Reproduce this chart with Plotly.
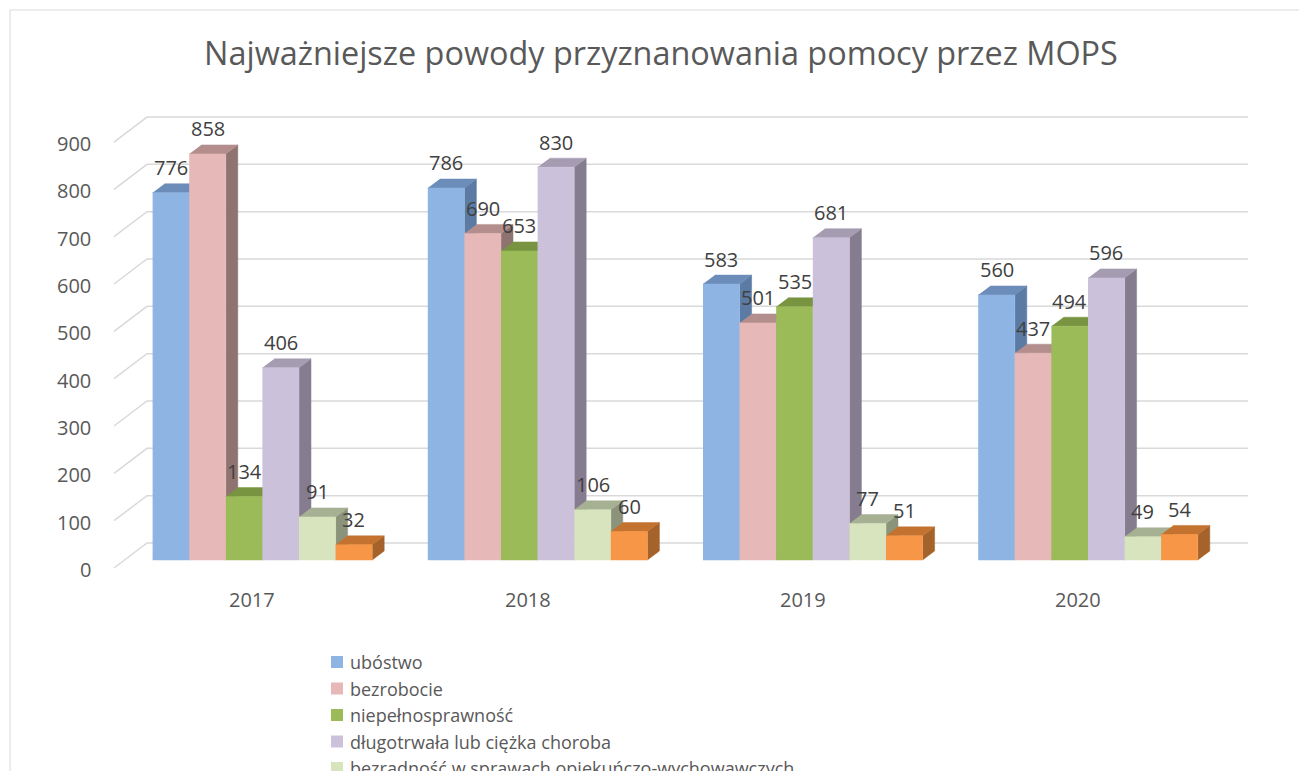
import plotly.graph_objects as go

# ---------------- data ----------------
years = ["2017", "2018", "2019", "2020"]
series_names = [
    "ubóstwo",
    "bezrobocie",
    "niepełnosprawność",
    "długotrwała lub ciężka choroba",
    "bezradność w sprawach opiekuńczo-wychowawczych",
    "(seria 6 – nazwa ucięta w legendzie)",
]
ubostwo = [776, 786, 583, 560]
bezrobocie = [858, 690, 501, 437]
niepelnosprawnosc = [134, 653, 535, 494]
dlugotrwala_choroba = [406, 830, 681, 596]
bezradnosc = [91, 106, 77, 49]
seria_6 = [32, 60, 51, 54]
y_tick_values = [0, 100, 200, 300, 400, 500, 600, 700, 800, 900]

series_values = [ubostwo, bezrobocie, niepelnosprawnosc, dlugotrwala_choroba, bezradnosc, seria_6]
legend_visible = [True, True, True, True, True, False]

front_colors = ["#8EB4E3", "#E6B9B8", "#9BBB59", "#CCC1DA", "#D7E4BD", "#F79646"]
top_colors = ["#6C8CB9", "#B38E8D", "#789440", "#A59CB2", "#A6B194", "#C4722F"]
side_colors = ["#5B7BA5", "#8F7371", "#6A8438", "#857C8F", "#8B937B", "#A5622A"]

# ---------------- geometry ----------------
# the page body has an 8px margin, so the figure is placed at (8, 8) in the window
OFF = 8
W, H = 1307 - OFF, 771 - OFF


def fx_px(px):  # window pixel x -> figure pixel x
    return px - OFF


def fy_px(py):  # window pixel y -> figure pixel y
    return py - OFF


PX_C0, PITCH = fx_px(262.4), 275.2        # first category centre, px per category
PY_BASE, PX_PER_UNIT = fy_px(560.0), 0.4733
X_RANGE = [-0.6, 3.6]
Y_RANGE = [-60, 1000]


def xu(px):
    return px / PITCH


def yu(px):
    return px / PX_PER_UNIT


bar_w = xu(36.6)
depth_x, depth_y = xu(12), yu(9)

x_dom = [(PX_C0 + X_RANGE[0] * PITCH) / W, (PX_C0 + X_RANGE[1] * PITCH) / W]
y_dom = [1 - (PY_BASE - Y_RANGE[0] * PX_PER_UNIT) / H, 1 - (PY_BASE - Y_RANGE[1] * PX_PER_UNIT) / H]

fig = go.Figure()

# back-wall gridlines with floor diagonal
x_front = xu(fx_px(114) - PX_C0)
x_back0 = xu(fx_px(147) - PX_C0)
x_back1 = xu(fx_px(1248) - PX_C0)
front_off, back_off = -yu(8), yu(17)
gx, gy = [], []
for t in y_tick_values:
    gx += [x_front, x_back0, x_back1, None]
    gy += [t + front_off, t + back_off, t + back_off, None]
fig.add_trace(go.Scatter(x=gx, y=gy, mode="lines", line=dict(color="#D9D9D9", width=1.5),
                         hoverinfo="skip", showlegend=False))

annotations = []
n = len(series_values)
for k, (name, vals) in enumerate(zip(series_names, series_values)):
    sx, sy, tx, ty, fxs, fys = [], [], [], [], [], []
    for i, v in enumerate(vals):
        x0 = i + (k - n / 2) * bar_w
        x1 = x0 + bar_w
        sx += [x1, x1 + depth_x, x1 + depth_x, x1, None]
        sy += [0, depth_y, v + depth_y, v, None]
        tx += [x0, x1, x1 + depth_x, x0 + depth_x, None]
        ty += [v, v, v + depth_y, v + depth_y, None]
        fxs += [x0, x1, x1, x0, None]
        fys += [0, 0, v, v, None]
        annotations.append(dict(x=(x0 + x1) / 2, y=v, xref="x", yref="y", text=str(v),
                                showarrow=False, yshift=25, yanchor="middle",
                                font=dict(family="Open Sans", size=20, color="#404040")))
    for xs, ys, col in ((sx, sy, side_colors[k]), (tx, ty, top_colors[k]), (fxs, fys, front_colors[k])):
        fig.add_trace(go.Scatter(x=xs, y=ys, mode="lines", fill="toself", fillcolor=col,
                                 line=dict(color=col, width=0.5), hoverinfo="skip",
                                 showlegend=False, name=name))

# y tick labels (front plane)
for t in y_tick_values:
    annotations.append(dict(x=fx_px(93) / W, xref="paper", y=t - yu(9.5), yref="y", text=str(t),
                            showarrow=False, xanchor="right", yanchor="middle",
                            font=dict(family="Open Sans", size=20, color="#595959")))

# category labels
for i, yr in enumerate(years):
    annotations.append(dict(x=i, xref="x", y=1 - fy_px(599.5) / H, yref="paper", text=yr,
                            showarrow=False, xshift=-10, xanchor="center", yanchor="middle",
                            font=dict(family="Open Sans", size=20, color="#595959")))

# legend
shapes = []
row_y = 662
for k, name in enumerate(series_names):
    if not legend_visible[k]:
        continue
    shapes.append(dict(type="rect", xref="paper", yref="paper",
                       x0=fx_px(331) / W, x1=fx_px(343) / W,
                       y0=1 - fy_px(row_y + 6) / H, y1=1 - fy_px(row_y - 6) / H,
                       fillcolor=front_colors[k], line=dict(width=0)))
    annotations.append(dict(x=fx_px(348) / W, y=1 - fy_px(row_y) / H, xref="paper", yref="paper",
                            text=name, showarrow=False, xanchor="left", yanchor="middle",
                            font=dict(family="Open Sans", size=18, color="#595959")))
    row_y += 26.5

# chart border (left and top visible)
bx, by = fx_px(10) / W, 1 - fy_px(10) / H
shapes.append(dict(type="line", xref="paper", yref="paper", x0=bx, x1=bx, y0=0, y1=by,
                   line=dict(color="#D9D9D9", width=1)))
shapes.append(dict(type="line", xref="paper", yref="paper", x0=bx, x1=1, y0=by, y1=by,
                   line=dict(color="#D9D9D9", width=1)))

fig.update_layout(
    width=W, height=H,
    margin=dict(l=0, r=0, t=0, b=0, autoexpand=False),
    paper_bgcolor="white", plot_bgcolor="white",
    title=dict(text="Najważniejsze powody przyznanowania pomocy przez MOPS",
               x=fx_px(661) / W, xanchor="center", y=1 - fy_px(54) / H, yanchor="middle",
               font=dict(family="Open Sans", size=32.4, color="#595959")),
    xaxis=dict(range=X_RANGE, domain=x_dom, visible=False, fixedrange=True),
    yaxis=dict(range=Y_RANGE, domain=y_dom, visible=False, fixedrange=True),
    annotations=annotations,
    shapes=shapes,
    showlegend=False,
)

fig.write_html("out.html")
